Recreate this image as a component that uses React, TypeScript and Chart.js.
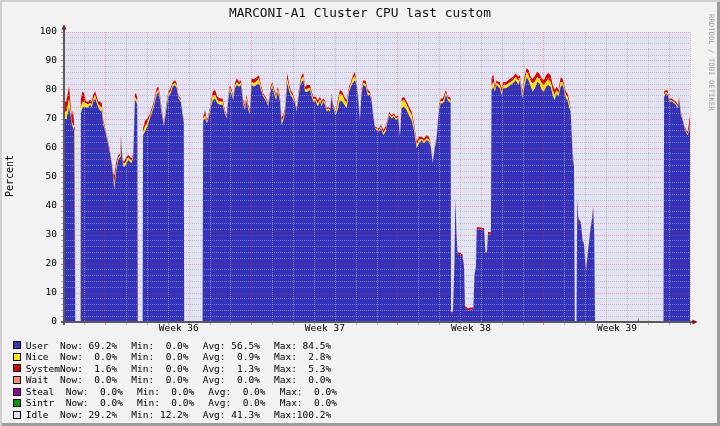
import React, { useEffect, useRef } from 'react';
import { Chart, registerables } from 'chart.js';

Chart.register(...registerables);

const TITLE = 'MARCONI-A1 Cluster CPU last custom';
const Y_TITLE = 'Percent';
const SIDE_TEXT = 'RRDTOOL / TOBI OETIKER';

// time axis in days from the left edge of the plot
const DAYS = [
  0.02, 0.10, 0.14, 0.19, 0.24, 0.29, 0.34, 0.38, 0.43, 0.48, 0.52, 0.54, 0.79,
  0.81, 0.88, 0.96, 1.05, 1.16, 1.25, 1.33, 1.40, 1.49, 1.57, 1.64, 1.72, 1.81, 1.88, 1.96, 2.05, 2.12, 2.20, 2.29, 2.36, 2.41, 2.50, 2.60, 2.70, 2.73, 2.78, 2.84, 2.92, 3.00, 3.08, 3.16, 3.24, 3.32, 3.40, 3.46, 3.51, 3.53, 3.77,
  3.79, 3.88, 3.99, 4.09, 4.20, 4.31, 4.44, 4.52, 4.60, 4.68, 4.79, 4.89, 5.00, 5.11, 5.21, 5.32, 5.40, 5.48, 5.59, 5.69, 5.74, 5.76, 6.64,
  6.67, 6.76, 6.84, 6.91, 7.03, 7.13, 7.24, 7.35, 7.47, 7.60,
  7.71, 7.80, 7.87, 7.95, 8.04, 8.11, 8.19, 8.28, 8.39, 8.48,
  8.59, 8.67, 8.75, 8.83, 8.91, 8.99, 9.10, 9.23, 9.34, 9.44,
  9.55, 9.66, 9.79, 9.90, 9.98, 10.08, 10.16, 10.25, 10.35, 10.43,
  10.51, 10.59, 10.70, 10.78, 10.86, 10.96, 11.07, 11.15, 11.23, 11.31,
  11.39, 11.47, 11.55, 11.66, 11.79, 11.87, 11.95, 12.06, 12.16, 12.27,
  12.35, 12.42, 12.51, 12.59, 12.66, 12.75, 12.83, 12.90, 13.02, 13.11,
  13.22, 13.34, 13.43, 13.55, 13.66, 13.75, 13.83, 13.94, 14.02, 14.10,
  14.18, 14.26, 14.34, 14.46, 14.55, 14.66, 14.74, 14.82, 14.90, 14.98,
  15.09, 15.19, 15.30, 15.41, 15.49, 15.59, 15.70, 15.81, 15.91, 16.02,
  16.10, 16.18, 16.29, 16.42, 16.53, 16.66, 16.77, 16.90, 17.01, 17.14,
  17.25, 17.38, 17.49, 17.57, 17.67, 17.76, 17.86, 17.97, 18.06, 18.15,
  18.22, 18.30, 18.39, 18.46, 18.53,
  18.55, 18.64, 18.71, 18.76, 18.81, 18.86, 18.98, 19.10, 19.17, 19.22, 19.36, 19.50, 19.62, 19.67, 19.74, 19.78, 19.93, 20.13, 20.20, 20.27, 20.32, 20.46,
  20.49, 20.57, 20.65, 20.73, 20.81, 20.89, 20.97, 21.05, 21.18, 21.29,
  21.40, 21.52, 21.65, 21.77, 21.85, 21.96, 22.05, 22.17, 22.26, 22.37,
  22.46, 22.57, 22.68, 22.78, 22.89, 23.00, 23.10, 23.20, 23.32, 23.42,
  23.51, 23.61, 23.70, 23.80, 23.89, 23.97, 24.05, 24.13, 24.21, 24.28,
  24.38, 24.44, 24.48, 24.56,
  24.60, 24.64, 24.69, 24.77, 24.85, 24.92, 24.98, 25.03, 25.09, 25.16, 25.22, 25.30, 25.36, 25.41, 25.45, 27.48, 27.52, 27.55, 28.73,
  28.76, 28.85, 28.93, 29.01, 29.12, 29.23, 29.32, 29.41, 29.48, 29.56, 29.65, 29.73, 29.83, 29.89, 29.97, 30.00,
];

const USER = [
  70, 70, 71, 72, 74, 72, 70, 68, 67, 66, 66, 0, 0,
  72, 73.7, 74.3, 74, 74, 74.9, 74, 76, 77.1, 75.4, 74, 73, 72.5, 67.9, 66.2, 63.3, 61, 58.2, 54.2, 50.1, 45.5, 52, 55.9, 57, 64, 57, 53.6, 53.6, 54.7, 55.9, 55.3, 54.7, 57, 76.5, 75.9, 75, 0, 0,
  64.5, 65.6, 67.4, 69.6, 71.9, 74.3, 78.3, 79.4, 76.5, 71.9, 67.4, 72.5, 77.7, 78.8, 81.1, 81.7, 80.6, 77.1, 76, 70.8, 69, 0, 0,
  69.6, 70.2, 68.5, 69.6, 73.7, 76.5, 77.1, 75.4, 74.9, 74.9,
  71.9, 70.2, 76.5, 79.9, 78.3, 76.5, 80.6, 81.7, 81.1, 81.7,
  74.9, 73.1, 76.5, 73.1, 71.9, 81.7, 81.1, 81.7, 82.3, 80,
  77.7, 76.5, 74.3, 79.4, 81.1, 78.3, 76.5, 79.4, 76, 67.9,
  69.6, 71.9, 82.3, 80, 78.3, 77.1, 75.4, 72.5, 77.1, 81.1,
  82.8, 83.4, 79.4, 79.4, 80, 77.7, 76, 76, 74.3, 76,
  74.3, 76, 74.9, 72.5, 73.1, 72.5, 77.7, 73.7, 71.3, 73.1,
  76.5, 76, 74.9, 73.7, 79.4, 81.1, 82.3, 83.4, 81.7, 76.5,
  69.6, 78.8, 81.7, 81.1, 78.3, 78.3, 76, 70.8, 66.8, 66.2,
  65.6, 66.8, 64.4, 65.6, 68.5, 71.3, 70.2, 70.8, 69.6, 70.2,
  63.9, 73.7, 74.3, 73.1, 71.3, 69.6, 66.2, 59.9, 61.6, 62.7,
  61.6, 62.7, 62.2, 60.5, 54.7, 59.3, 63.3, 73.1, 75.4, 75.4,
  76, 78.3, 76.5, 76, 75.4,
  3, 3, 20, 43, 30, 23.5, 23, 22.5, 19, 5, 4, 4.3, 4.5, 16, 19, 31.9, 31.9, 31.5, 23.7, 24, 30.2, 30.2,
  80, 81, 79.4, 81.7, 81.1, 80.6, 78.3, 80.6, 80.6, 81.1,
  81.7, 82.3, 83.4, 81.7, 83.4, 77.1, 80.6, 84.5, 83.4, 81.1,
  79.4, 80.6, 82.8, 82.3, 80, 79.4, 81.1, 81.7, 81.1, 78.3,
  76.5, 78.8, 77.7, 81.1, 81.7, 80, 77.1, 76.5, 74, 72.5,
  56.4, 53.6, 0, 0,
  43, 36, 34.6, 34, 27.7, 26.6, 19.7, 17.9, 23.1, 27.1, 31.1, 35.2, 39.2, 30, 0, 0, 1.2, 0, 0,
  77.7, 78.8, 78.3, 76, 76, 75.4, 74.9, 73.7, 76.5, 71.3, 69.6, 66.8, 65.1, 64.4, 66.2, 69.2,
];

const NICE = [
  2.5, 2.5, 2, 3, 3, 2, 1, 1, 1, 1, 1, 0, 0,
  2, 2, 1.5, 1.4, 1, 0.7, 1, 1, 1, 1, 1, 1.5, 1.4, 0.7, 0.5, 0.5, 0.5, 0.4, 0.5, 0.5, 2, 1.2, 0.7, 0.5, 0.5, 0.5, 1, 1.2, 1.2, 0.8, 0.8, 0.9, 0.6, 1, 1, 1, 0, 0,
  1, 1.8, 1.3, 0.8, 0.8, 0.8, 1, 0.8, 0.8, 0.8, 0.5, 0.8, 0.8, 0.8, 0.8, 0.8, 0.8, 0.5, 0.5, 0.5, 0.5, 0, 0,
  0.5, 1, 0.5, 0.5, 0.7, 1.5, 1.2, 1.1, 1.1, 1,
  0.5, 0.5, 0.8, 0.8, 0.8, 0.6, 0.8, 1, 0.8, 0.8,
  0.8, 0.8, 0.8, 0.8, 0.5, 1.1, 1.2, 1.3, 1.5, 0.8,
  0.5, 0.5, 0.5, 0.8, 0.8, 0.8, 0.8, 0.8, 0.8, 1.5,
  0.8, 0.8, 1.5, 1, 0.8, 0.8, 0.5, 0.5, 0.8, 0.8,
  1.2, 1.2, 0.8, 1, 0.8, 0.8, 0.8, 0.8, 1, 0.8,
  0.8, 0.5, 0.8, 0.5, 0.5, 0.5, 0.5, 0.5, 0.5, 1.6,
  2.3, 2.2, 1.7, 1.7, 0.8, 0.8, 1.4, 1.4, 0.5, 0.8,
  0.5, 0.8, 0.8, 0.9, 0.8, 0.5, 0.5, 0.5, 0.3, 0.4,
  0.5, 0.5, 0.8, 0.8, 0.5, 0.5, 0.5, 0.5, 0.5, 0.5,
  0.2, 2.3, 2.3, 1.8, 1.8, 1.8, 1.2, 1.2, 1.2, 0.5,
  0.7, 0.7, 0.7, 0.5, 0.3, 0.5, 0.5, 0.8, 0.8, 0.8,
  1, 0.8, 0.5, 0.8, 0.8,
  0, 0, 0, 0, 0, 0, 0, 0, 0, 0, 0, 0, 0, 0, 0, 0, 0, 0, 0, 0, 0, 0,
  1.5, 1.8, 0.8, 0.8, 0.8, 1, 1, 1, 1, 1.1,
  1.1, 1.1, 1.1, 1.4, 0.8, 1.1, 1.7, 1.7, 1.7, 1.8,
  2.8, 2.3, 1.7, 1.7, 2.3, 2.3, 1.7, 2, 1.7, 1.7,
  1.7, 1.1, 1.1, 1.7, 1.1, 0.8, 1.1, 1.2, 1.4, 0.5,
  1.1, 0.5, 0, 0,
  0, 0, 0, 0, 0, 0, 0, 0, 0, 0, 0, 0, 0, 0, 0, 0, 0, 0, 0,
  0.7, 0.5, 0.6, 0.5, 0.5, 0.5, 0.5, 0.5, 0.5, 0.5, 0.3, 0.3, 0.4, 0.4, 0.8, 0,
];

const SYSTEM = [
  3.5, 3.5, 3, 4, 4.5, 3, 2, 2, 5, 2, 2, 0, 0,
  3, 3.7, 3.2, 0.6, 1, 1, 1, 1.3, 1.5, 1.3, 1, 1.5, 1.5, 1, 0.6, 0.6, 0.7, 0.5, 0.6, 0.7, 3, 1.8, 1, 0.5, 0.5, 0.5, 0.7, 1.1, 1.1, 0.9, 0.9, 0.9, 0.6, 1.3, 1.8, 1.5, 0, 0,
  1.3, 1.9, 1.5, 0.9, 0.9, 0.9, 1.3, 0.9, 1, 0.9, 0.6, 1, 0.9, 1, 0.9, 0.9, 0.9, 0.7, 0.6, 0.6, 0.5, 0, 0,
  0.7, 1.8, 0.6, 0.7, 1, 1.4, 1.7, 1.2, 1.1, 1.2,
  0.6, 0.6, 1, 1, 0.9, 0.6, 0.9, 1.3, 0.9, 0.9,
  0.9, 1, 1, 1, 0.6, 1.2, 1.4, 1.4, 1.3, 0.9,
  0.6, 0.7, 0.6, 0.9, 0.9, 0.9, 1, 0.9, 0.9, 1.4,
  0.9, 0.9, 2, 1.3, 0.9, 0.9, 0.6, 0.6, 0.9, 0.9,
  1.1, 1.2, 0.9, 1.3, 0.9, 0.9, 0.9, 0.9, 1.2, 0.9,
  0.9, 0.6, 0.8, 0.6, 0.7, 0.6, 0.6, 0.7, 0.7, 1.3,
  1.2, 1.2, 1.1, 1.1, 0.9, 0.9, 0.9, 1.5, 0.6, 1,
  0.7, 1, 0.9, 1.1, 0.9, 0.6, 0.6, 0.6, 0.5, 0.5,
  0.7, 0.6, 1, 1, 0.6, 0.7, 0.6, 0.6, 0.7, 0.6,
  0.3, 1.1, 1.1, 1.1, 1.2, 1.1, 1.1, 1.1, 1.1, 0.7,
  1, 1, 1, 0.6, 0.3, 0.7, 0.6, 1, 0.9, 0.9,
  1.3, 0.9, 0.7, 0.9, 0.9,
  0.5, 0.5, 0.5, 0.3, 0.5, 0.8, 0.8, 0.8, 0.5, 0.5, 0.7, 0.7, 0.5, 0.3, 0.3, 0.8, 0.8, 0.8, 0.3, 0.3, 0.8, 0.8,
  2.5, 2.7, 0.9, 0.9, 0.9, 1.2, 1.3, 1.2, 1.2, 1.2,
  1.2, 1.2, 1.2, 1.5, 0.9, 1.2, 1.7, 1.4, 1.8, 1.5,
  1.8, 1.9, 1.8, 1.7, 1.7, 1.7, 2.3, 2.2, 2.3, 1.7,
  1.8, 1.2, 1.2, 1.6, 1.2, 0.9, 1.2, 1.1, 1.1, 0.6,
  0.9, 0.6, 0, 0,
  0.3, 0.5, 0.7, 0.5, 0.7, 0.5, 0.7, 0.7, 0.5, 0.5, 0.8, 0.5, 0.5, 0.3, 0, 0, 0.3, 0, 0,
  1, 0.7, 0.8, 0.6, 0.6, 0.6, 0.6, 0.7, 0.5, 0.7, 0.3, 0.5, 0.7, 0.8, 2.6, 1.6,
];

// axis ticks
const Y_TICKS = Array.from({ length: 51 }, (_, i) => i * 2);
const DAY_TICKS = Array.from({ length: 31 }, (_, i) => i);
const WEEK_STARTS = [2, 9, 16, 23, 30];
const WEEK_LABEL_AT = [5.5, 12.5, 19.5, 26.5];
const WEEK_LABELS = ['Week 36', 'Week 37', 'Week 38', 'Week 39'];

// legend
const LEGEND_NAMES = ['User', 'Nice', 'System', 'Wait', 'Steal', 'Sintr', 'Idle'];
const LEGEND_COLORS = ['#3333BB', '#FFEA00', '#DD0000', '#FF8A60', '#9900A0', '#009900', '#E2E2F2'];
const NOW_VALUES = [69.2, 0.0, 1.6, 0.0, 0.0, 0.0, 29.2];
const MIN_VALUES = [0.0, 0.0, 0.0, 0.0, 0.0, 0.0, 12.2];
const AVG_VALUES = [56.5, 0.9, 1.3, 0.0, 0.0, 0.0, 41.3];
const MAX_VALUES = [84.5, 2.8, 5.3, 0.0, 0.0, 0.0, 100.2];

const MONO = '"DejaVu Sans Mono", monospace';
const MINOR = 'rgba(170,170,170,0.6)';
const MAJOR = 'rgba(255,40,40,0.32)';
const CLEAR = 'rgba(0,0,0,0)';

const fmt = (v: number) => v.toFixed(1).padStart(5, ' ');

const plotBackground = {
  id: 'plotBackground',
  beforeDraw(chart: any) {
    const { ctx, chartArea: a } = chart;
    ctx.save();
    ctx.fillStyle = '#E2E2F2';
    ctx.fillRect(a.left, a.top, a.right - a.left, a.bottom - a.top);
    ctx.restore();
  },
};

const rrdAxes = {
  id: 'rrdAxes',
  afterDraw(chart: any) {
    const { ctx, chartArea: a } = chart;
    ctx.save();
    ctx.strokeStyle = '#5A5A5A';
    ctx.lineWidth = 2;
    ctx.beginPath();
    ctx.moveTo(a.left, a.bottom + 3);
    ctx.lineTo(a.left, a.top - 3);
    ctx.stroke();
    ctx.beginPath();
    ctx.moveTo(a.left - 3, a.bottom);
    ctx.lineTo(a.right + 3, a.bottom);
    ctx.stroke();
    ctx.fillStyle = '#8B1010';
    ctx.beginPath();
    ctx.moveTo(a.left - 2.5, a.top - 2.5);
    ctx.lineTo(a.left + 2.5, a.top - 2.5);
    ctx.lineTo(a.left, a.top - 7.5);
    ctx.closePath();
    ctx.fill();
    ctx.beginPath();
    ctx.moveTo(a.right + 2.5, a.bottom - 2.5);
    ctx.lineTo(a.right + 2.5, a.bottom + 2.5);
    ctx.lineTo(a.right + 7.5, a.bottom);
    ctx.closePath();
    ctx.fill();
    ctx.restore();
  },
};

const areaSet = (label: string, data: number[], color: string, fill: string) => ({
  label,
  data,
  backgroundColor: color,
  borderColor: CLEAR,
  borderWidth: 0,
  pointRadius: 0,
  tension: 0,
  fill,
});

export default function App() {
  const ref = useRef<HTMLCanvasElement>(null);

  useEffect(() => {
    document.body.style.margin = '0';
    const canvas = ref.current;
    if (!canvas) return;
    const chart = new Chart(canvas, {
      type: 'line',
      data: {
        labels: DAYS,
        datasets: [
          areaSet('User', USER, LEGEND_COLORS[0], 'origin'),
          areaSet('Nice', NICE, LEGEND_COLORS[1], '-1'),
          areaSet('System', SYSTEM, LEGEND_COLORS[2], '-1'),
        ] as any,
      },
      options: {
        animation: false,
        responsive: false,
        maintainAspectRatio: false,
        events: [],
        layout: { padding: { left: 0, right: 30, top: 32, bottom: 84 } },
        plugins: {
          legend: { display: false },
          tooltip: { enabled: false },
          title: { display: false },
        },
        scales: {
          x: {
            type: 'linear',
            min: 0,
            max: 30,
            afterBuildTicks: (scale: any) => {
              const all = [...DAY_TICKS, ...WEEK_LABEL_AT].sort((p, q) => p - q);
              scale.ticks = all.map((value) => ({ value }));
            },
            afterFit: (scale: any) => {
              scale.height = 20;
            },
            grid: {
              z: 1,
              lineWidth: 1,
              tickLength: 3,
              color: (c: any) => {
                const v = c.tick ? c.tick.value : 0;
                if (!Number.isInteger(v)) return CLEAR;
                return WEEK_STARTS.includes(v) ? MAJOR : MINOR;
              },
              tickColor: (c: any) => {
                const v = c.tick ? c.tick.value : 0;
                if (!Number.isInteger(v)) return CLEAR;
                return WEEK_STARTS.includes(v) ? 'rgba(255,40,40,0.6)' : 'rgba(150,150,150,0.7)';
              },
            },
            border: { display: false, dash: [1, 1] },
            ticks: {
              z: 1,
              autoSkip: false,
              maxRotation: 0,
              padding: -1,
              color: '#000',
              font: { family: 'DejaVu Sans Mono', size: 9.5, lineHeight: 1 },
              callback: (value: any) => {
                const k = WEEK_LABEL_AT.indexOf(Number(value));
                return k >= 0 ? WEEK_LABELS[k] : '';
              },
            },
          },
          y: {
            stacked: true,
            min: 0,
            max: 100,
            afterBuildTicks: (scale: any) => {
              scale.ticks = Y_TICKS.map((value) => ({ value }));
            },
            afterFit: (scale: any) => {
              scale.width = 64;
            },
            grid: {
              z: 1,
              lineWidth: 1,
              tickLength: 3,
              color: (c: any) => (c.tick && c.tick.value % 10 === 0 ? MAJOR : MINOR),
              tickColor: (c: any) =>
                c.tick && c.tick.value % 10 === 0 ? 'rgba(255,40,40,0.6)' : 'rgba(150,150,150,0.7)',
            },
            border: { display: false, dash: [1, 1] },
            ticks: {
              z: 1,
              autoSkip: false,
              padding: 4,
              color: '#000',
              font: { family: 'DejaVu Sans Mono', size: 9.5 },
              callback: (value: any) => (Number(value) % 10 === 0 ? String(value) : ''),
            },
          },
        },
      } as any,
      plugins: [plotBackground, rrdAxes],
    });
    return () => chart.destroy();
  }, []);

  const text = { position: 'absolute' as const, whiteSpace: 'pre' as const, fontSize: 9.5, lineHeight: '11.55px', color: '#000' };

  return (
    <div
      style={{
        position: 'relative',
        width: 720,
        height: 426,
        overflow: 'hidden',
        background: '#F2F2F2',
        boxShadow: 'inset 2px 2px 0 #D0D0D0, inset -3px -3px 0 #9C9C9C',
        fontFamily: MONO,
      }}
    >
      <canvas ref={ref} width={720} height={426} style={{ position: 'absolute', left: 0, top: 0, width: 720, height: 426 }} />
      <div style={{ position: 'absolute', left: 0, top: 5, width: 720, textAlign: 'center', fontSize: 12.8, lineHeight: '16px', color: '#111', whiteSpace: 'pre' }}>
        {TITLE}
      </div>
      <div
        style={{
          position: 'absolute',
          left: 9.5,
          top: 176,
          transform: 'translate(-50%, -50%) rotate(-90deg)',
          fontSize: 10,
          lineHeight: '12px',
          whiteSpace: 'pre',
          color: '#000',
        }}
      >
        {Y_TITLE}
      </div>
      <div
        style={{
          position: 'absolute',
          left: 707.3,
          top: 14,
          writingMode: 'vertical-rl',
          fontSize: 7.3,
          lineHeight: '7.3px',
          color: '#A0A0A0',
          whiteSpace: 'pre',
        }}
      >
        {SIDE_TEXT}
      </div>
      {LEGEND_NAMES.map((name, i) => {
        const top = 339.5 + i * 11.55;
        const shift = name.length === 5 ? 5.7 : 0;
        const items: [string, number][] = [
          ['Now:', NOW_VALUES[i]],
          ['Min:', MIN_VALUES[i]],
          ['Avg:', AVG_VALUES[i]],
          ['Max:', MAX_VALUES[i]],
        ];
        return (
          <React.Fragment key={name}>
            <div
              style={{
                position: 'absolute',
                left: 12.5,
                top: top + 1.8,
                width: 6,
                height: 6,
                background: LEGEND_COLORS[i],
                border: '1px solid #000',
              }}
            />
            <span style={{ ...text, left: 25.7, top }}>{name}</span>
            {items.map(([k, v], j) => (
              <span key={k} style={{ ...text, left: 60 + shift + j * 71.33, top }}>
                {k + fmt(v) + '%'}
              </span>
            ))}
          </React.Fragment>
        );
      })}
    </div>
  );
}
